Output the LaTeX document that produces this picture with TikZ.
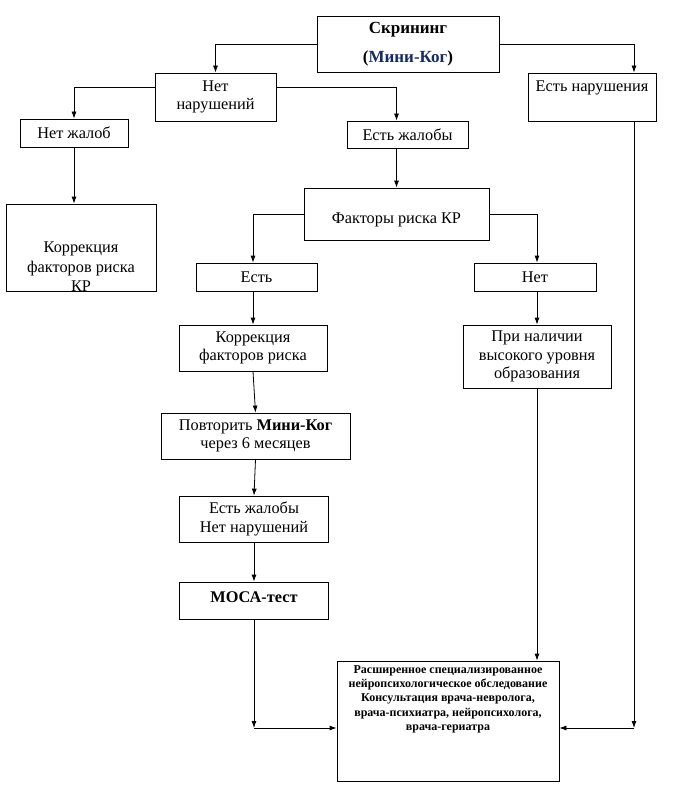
\documentclass[tikz,border=0pt]{standalone}
\usepackage{fontspec}
\setmainfont{Liberation Serif}
\usetikzlibrary{arrows.meta}
\definecolor{navy}{RGB}{23,43,99}

\begin{document}
\begin{tikzpicture}[x=1pt, y=-1pt,
  box/.style={draw, line width=0.8pt, inner sep=0pt, align=center, font=\fontsize{16.3}{18.5}\selectfont},
  txt/.style={inner sep=0pt, align=center, font=\fontsize{16.3}{18.5}\selectfont},
  bigtxt/.style={inner sep=0pt, align=center, font=\fontsize{12}{14.4}\selectfont\bfseries},
  link/.style={-{Latex[length=7pt,width=5pt]}, line width=0.8pt}
]
\useasboundingbox (0,0) rectangle (672,789);

\node[box, minimum width=182, minimum height=56, font=\fontsize{17}{18.5}\selectfont\bfseries] (screen) at (408,44) {Скрининг\\[11pt](\textcolor{navy}{Мини-Ког})};
\node[box, minimum width=121, minimum height=48] (nonimp) at (215.5,97) {Нет\\нарушений};
\node[box, minimum width=128, minimum height=48] (viol) at (592,97) {};
\node[txt] (viol-t) at (592,88) {Есть нарушения};
\node[box, minimum width=108, minimum height=28] (nocompl) at (74,133) {Нет жалоб};
\node[box, minimum width=121, minimum height=27] (compl) at (407.5,134.5) {Есть жалобы};
\node[box, minimum width=150, minimum height=87] (korrKR) at (81,247.5) {};
\begin{scope}
  \clip (korrKR.north west) rectangle (korrKR.south east);
  \node[txt, font=\fontsize{16.3}{19.5}\selectfont] (korrKR-t) at (81,267) {Коррекция\\факторов риска\\КР};
\end{scope}
\node[box, minimum width=185, minimum height=52] (factors) at (396.5,214) {};
\node[txt] (factors-t) at (396.5,220) {Факторы риска КР};
\node[box, minimum width=121, minimum height=28] (yes) at (256.5,277) {Есть};
\node[box, minimum width=122, minimum height=28] (no) at (535,277) {Нет};
\node[box, minimum width=148, minimum height=46] (korr) at (253,348) {Коррекция\\факторов риска};
\node[box, minimum width=148, minimum height=63] (edu) at (537,356.5) {При наличии\\высокого уровня\\образования};
\node[box, minimum width=189, minimum height=46] (repeat) at (255.5,436) {Повторить \textbf{Мини-Ког}\\через 6 месяцев};
\node[box, minimum width=149, minimum height=46] (again) at (254,519) {Есть жалобы\\Нет нарушений};
\node[box, minimum width=149, minimum height=37] (moca) at (254,600.5) {};
\node[txt, font=\fontsize{16.3}{18.5}\selectfont\bfseries] (moca-t) at (254,597) {МОСА-тест};
\node[box, minimum width=222, minimum height=120] (big) at (448,721) {};
\node[bigtxt, anchor=north] (big-t) at (448,665) {Расширенное специализированное\\нейропсихологическое обследование\\Консультация врача-невролога,\\врача-психиатра, нейропсихолога,\\врача-гериатра};

\coordinate (cl) at (255,728);
\coordinate (cr) at (634,728);

\draw[link] (screen.west) -| (nonimp.north);
\draw[link] (screen.east) -| (cr |- viol.north);
\draw[link] ([yshift=10pt]nonimp.west) -| (nocompl.north);
\draw[link] ([yshift=10pt]nonimp.east) -| (compl.north -| factors.north);
\draw[link] (nocompl.south) -- (nocompl.south |- korrKR.north);
\draw[link] (compl.south -| factors.north) -- (factors.north);
\draw[link] (factors.west) -| (korr.north |- yes.north);
\draw[link] (factors.east) -| (edu.north |- no.north);
\draw[link] (korr.north |- yes.south) -- (korr.north);
\draw[link] (edu.north |- no.south) -- (edu.north);
\draw[link] (korr.south) -- (repeat.north);
\draw[link] (repeat.south) -- (again.north);
\draw[link] (again.south) -- (moca.north);
\draw[link] (moca.south) -- (moca.south |- cl);
\draw[link] (moca.south |- cl) -- (big.west |- cl);
\draw[link] (edu.south) -- (big.north -| edu.south);
\draw[link] (cr |- viol.south) -- (cr);
\draw[link] (cr) -- (big.east |- cr);
\end{tikzpicture}
\end{document}
